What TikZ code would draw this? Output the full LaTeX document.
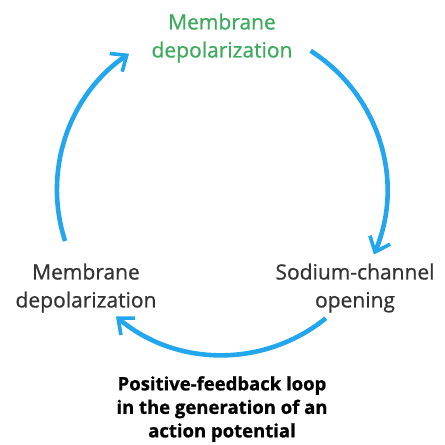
\documentclass[tikz,border=0pt]{standalone}
\usepackage{fontspec}
\setmainfont{Open Sans}
\newfontfamily\labfont[FakeBold=0.7]{Open Sans}
\newfontfamily\capfont[FakeBold=0.9]{Open Sans Bold}
\usetikzlibrary{arrows.meta}
\definecolor{loopblue}{HTML}{22A6EE}
\definecolor{labgreen}{HTML}{3DAA5E}
\definecolor{labgray}{HTML}{333333}
\begin{document}
\begin{tikzpicture}[x=1pt,y=-1pt,
  lab/.style={align=center,text=labgray,font=\labfont\fontsize{21}{28}\selectfont,inner sep=0pt},
  title/.style={align=center,text=black,font=\capfont\fontsize{18.5}{23.5}\selectfont,inner sep=0pt},
  loop/.style={draw=loopblue,line width=4.6pt,-{Straight Barb[length=13pt,width=22pt,line width=3.6pt]}}]
\useasboundingbox[fill=white] (0,0) rectangle (445,445);
\coordinate (c) at (222,190);
\node[lab,text=labgreen] (top) at (222,38) {Membrane\\depolarization};
\node[lab] (left) at (86,288) {Membrane\\depolarization};
\node[lab] (right) at (355,288) {Sodium-channel\\opening};
\node[title] (cap) at (222,409) {Positive-feedback loop\\in the generation of an\\action potential};
\path (c) ++(-57.5:165) coordinate (a1);
\path (c) ++(51:165) coordinate (a2);
\path (c) ++(162:165) coordinate (a3);
\draw[loop] (a1) arc[start angle=-57.5,end angle=23,radius=165];
\draw[loop] (a2) arc[start angle=51,end angle=130,radius=165];
\draw[loop] (a3) arc[start angle=162,end angle=235.7,radius=165];
\end{tikzpicture}
\end{document}
